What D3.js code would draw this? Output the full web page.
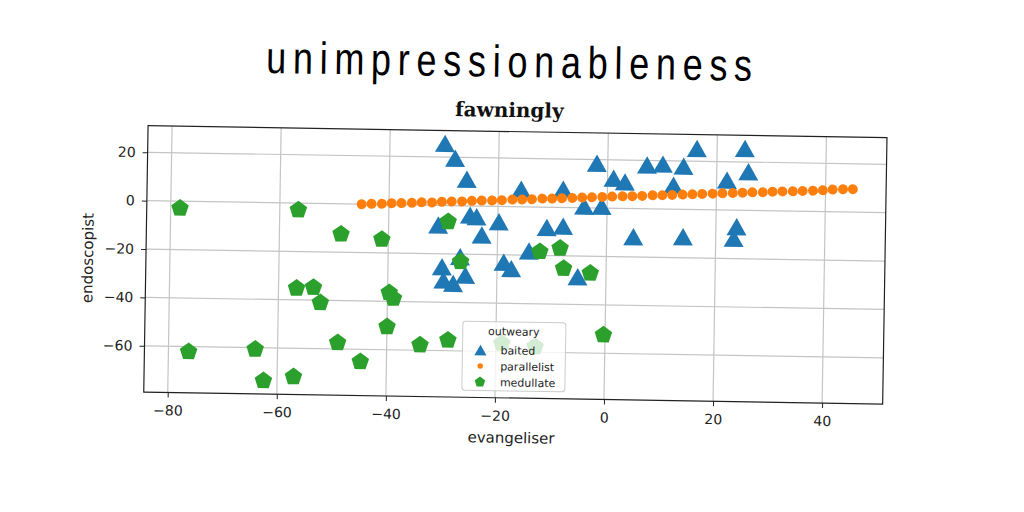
<!DOCTYPE html>
<html>
<head>
<meta charset="utf-8">
<script src="https://cdn.jsdelivr.net/npm/d3@7"></script>
<style>
  body { margin: 0; background: #fff; }
</style>
</head>
<body>
<svg id="chart" width="1024" height="512"></svg>
<script>
const xTicks = [-80, -60, -40, -20, 0, 20, 40];
const yTicks = [-60, -40, -20, 0, 20];

const seriesNames = ["baited", "parallelist", "medullate"];
const seriesColors = ["#1f77b4", "#ff7f0e", "#2ca02c"];

const baitedX = [-29.9, -28.0, -25.8, -15.8, -8.1, -2.0, 1.1, 3.2, -4.2, -1.0, -25.1, -23.9, -19.8, -30.9, -22.9, -11.0, -8.0, 4.9, -14.2, -30.1, -26.8, -25.8, -29.8, -28.0, -18.8, -17.4, -5.2, 16.3, 25.1, 7.2, 10.1, 13.9, 25.8, 12.1, 21.9, 14.0, 23.8, 23.3];
const baitedY = [25.7, 19.6, 11.0, 7.3, 7.6, 18.5, 12.4, 11.0, 0.7, 0.8, -3.8, -4.4, -6.3, -8.1, -11.9, -8.4, -7.7, -11.6, -18.2, -25.3, -21.0, -28.6, -30.8, -32.1, -23.0, -25.6, -28.5, 25.3, 25.6, 18.1, 18.6, 17.9, 16.0, 10.0, 12.4, -11.3, -6.8, -11.6];

const parallelistX = [-45.0, -43.2, -41.3, -39.5, -37.7, -35.8, -34.0, -32.1, -30.3, -28.5, -26.6, -24.8, -23.0, -21.1, -19.3, -17.4, -15.6, -13.8, -11.9, -10.1, -8.3, -6.4, -4.6, -2.8, -0.9, 0.9, 2.8, 4.6, 6.4, 8.3, 10.1, 11.9, 13.8, 15.6, 17.4, 19.3, 21.1, 23.0, 24.8, 26.6, 28.5, 30.3, 32.1, 34.0, 35.8, 37.7, 39.5, 41.3, 43.2, 45.0];
const parallelistY = [0.0, 0.2, 0.3, 0.6, 0.7, 0.9, 1.2, 1.2, 1.5, 1.7, 1.8, 2.1, 2.3, 2.4, 2.6, 2.9, 3.0, 3.2, 3.5, 3.6, 3.8, 4.0, 4.2, 4.4, 4.6, 4.8, 5.0, 5.1, 5.3, 5.6, 5.7, 5.9, 6.1, 6.3, 6.5, 6.7, 6.9, 7.1, 7.3, 7.5, 7.6, 7.9, 8.1, 8.2, 8.4, 8.6, 8.8, 9.2, 9.4, 9.5];

const medullateX = [-78.3, -56.6, -48.7, -41.2, -29.1, -26.7, -56.7, -53.6, -52.3, -39.7, -38.9, -40.0, -76.3, -64.1, -49.0, -44.8, -33.9, -28.8, -62.5, -57.0, -0.3, -12.2, -8.5, -7.8, -2.9, -18.9, -12.8];
const medullateY = [-2.9, -2.8, -12.5, -14.4, -6.7, -23.1, -35.2, -34.7, -41.0, -36.4, -38.7, -50.5, -62.1, -60.7, -57.4, -65.1, -57.8, -55.6, -73.6, -71.8, -52.4, -18.4, -16.9, -25.2, -27.0, -56.6, -57.7];

const plotLeft = 146, plotRight = 885, plotTop = 131.6, plotBottom = 398;

const x = d3.scaleLinear().domain([-84.4, 51.1]).range([plotLeft, plotRight]);
const y = d3.scaleLinear().domain([-79.1, 31]).range([plotBottom, plotTop]);

const fmt = d => (d < 0 ? "\u2212" + Math.abs(d) : "" + d);

const svg = d3.select("#chart");
// the whole picture is turned a little clockwise
const g = svg.append("g").attr("transform", "rotate(0.93,512,256)");

// titles
g.append("text")
  .attr("transform", "translate(506,77) scale(0.8,1)")
  .attr("text-anchor", "middle")
  .attr("textLength", 486 / 0.8)
  .attr("lengthAdjust", "spacing")
  .style("font-family", "Liberation Sans, Arial, sans-serif")
  .style("font-size", "45px")
  .attr("fill", "#000")
  .text("unimpressionableness");

g.append("text")
  .attr("x", 507).attr("y", 117)
  .attr("text-anchor", "middle")
  .style("font-family", "DejaVu Serif, serif")
  .style("font-weight", "bold")
  .style("font-size", "20px")
  .attr("fill", "#111")
  .text("fawningly");

// grid
g.append("g").selectAll("line")
  .data(xTicks)
  .join("line")
  .attr("x1", d => x(d)).attr("x2", d => x(d))
  .attr("y1", plotTop).attr("y2", plotBottom)
  .attr("stroke", "#c4c4c4").attr("stroke-width", 1.2);

g.append("g").selectAll("line")
  .data(yTicks)
  .join("line")
  .attr("x1", plotLeft).attr("x2", plotRight)
  .attr("y1", d => y(d)).attr("y2", d => y(d))
  .attr("stroke", "#c4c4c4").attr("stroke-width", 1.2);

// markers
const tri = d3.symbol(d3.symbolTriangle, 173)();
const triSmall = d3.symbol(d3.symbolTriangle, 64)();
const pentagon = r => d3.line()(d3.range(5).map(i => {
  const a = -Math.PI / 2 + i * 2 * Math.PI / 5;
  return [r * Math.cos(a), r * Math.sin(a)];
})) + "Z";

g.append("g").selectAll("path")
  .data(d3.zip(baitedX, baitedY))
  .join("path")
  .attr("d", tri)
  .attr("transform", d => `translate(${x(d[0])},${y(d[1]) + 2.9})`)
  .attr("fill", seriesColors[0]);

g.append("g").selectAll("circle")
  .data(d3.zip(parallelistX, parallelistY))
  .join("circle")
  .attr("cx", d => x(d[0]))
  .attr("cy", d => y(d[1]))
  .attr("r", 5)
  .attr("fill", seriesColors[1]);

g.append("g").selectAll("path")
  .data(d3.zip(medullateX, medullateY))
  .join("path")
  .attr("d", pentagon(9.2))
  .attr("transform", d => `translate(${x(d[0])},${y(d[1])})`)
  .attr("fill", seriesColors[2]);

// axes
const xAxis = g.append("g")
  .attr("transform", `translate(0,${plotBottom})`)
  .call(d3.axisBottom(x).tickValues(xTicks).tickFormat(fmt).tickSize(5).tickPadding(8));
const yAxis = g.append("g")
  .attr("transform", `translate(${plotLeft},0)`)
  .call(d3.axisLeft(y).tickValues(yTicks).tickFormat(fmt).tickSize(5).tickPadding(7));

[xAxis, yAxis].forEach(a => {
  a.select(".domain").remove();
  a.selectAll("line").attr("stroke", "#222");
  a.selectAll("text")
    .style("font-family", "DejaVu Sans, sans-serif")
    .style("font-size", "14px")
    .attr("fill", "#222");
});

g.append("rect")
  .attr("x", plotLeft).attr("y", plotTop)
  .attr("width", plotRight - plotLeft).attr("height", plotBottom - plotTop)
  .attr("fill", "none").attr("stroke", "#222").attr("stroke-width", 1.2);

g.append("text")
  .attr("x", 514).attr("y", 443)
  .attr("text-anchor", "middle")
  .style("font-family", "DejaVu Sans, sans-serif")
  .style("font-size", "15px")
  .attr("fill", "#222")
  .text("evangeliser");

g.append("text")
  .attr("transform", "translate(93,265) rotate(-90)")
  .attr("text-anchor", "middle")
  .style("font-family", "DejaVu Sans, sans-serif")
  .style("font-size", "15px")
  .attr("fill", "#222")
  .text("endoscopist");

// legend
const legend = g.append("g");
legend.append("rect")
  .attr("x", 464).attr("y", 322)
  .attr("width", 103).attr("height", 69)
  .attr("rx", 3)
  .attr("fill", "#fff").attr("fill-opacity", 0.8)
  .attr("stroke", "#cccccc");

legend.append("text")
  .attr("x", 515).attr("y", 335.5)
  .attr("text-anchor", "middle")
  .style("font-family", "DejaVu Sans, sans-serif")
  .style("font-size", "11px")
  .attr("fill", "#222")
  .text("outweary");

const rows = legend.selectAll("g.row")
  .data(seriesNames)
  .join("g")
  .attr("class", "row")
  .attr("transform", (d, i) => `translate(482,${350.5 + i * 16})`);

rows.append("path")
  .attr("d", (d, i) => i === 0 ? triSmall : i === 1 ? d3.symbol(d3.symbolCircle, 24)() : pentagon(5.5))
  .attr("transform", (d, i) => i === 0 ? "translate(0,1.8)" : null)
  .attr("fill", (d, i) => seriesColors[i]);

rows.append("text")
  .attr("x", 20).attr("y", 4)
  .style("font-family", "DejaVu Sans, sans-serif")
  .style("font-size", "11px")
  .attr("fill", "#222")
  .text(d => d);
</script>
</body>
</html>
